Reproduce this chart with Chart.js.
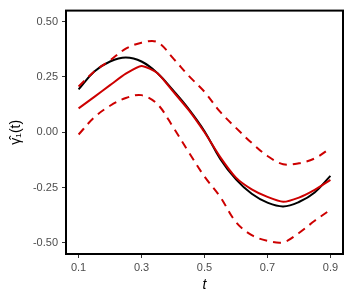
<!DOCTYPE html>
<html><head><meta charset="utf-8">
<script src="https://cdn.jsdelivr.net/npm/chart.js@4"></script>
<style>html,body{margin:0;padding:0;background:#fff}#wrap{width:350px;height:300px}</style>
</head><body><div id="wrap"><canvas id="c" width="350" height="300"></canvas></div>
<script>
const tVals = [0.10,0.15,0.20,0.25,0.30,0.35,0.40,0.45,0.50,0.55,0.60,0.65,0.70,0.75,0.80,0.85,0.90];
const trueCurve = [0.194,0.275,0.320,0.338,0.320,0.268,0.190,0.105,0.005,-0.120,-0.213,-0.278,-0.318,-0.335,-0.315,-0.272,-0.197];
const estimate  = [0.108,0.160,0.213,0.265,0.300,0.268,0.185,0.100,0.000,-0.112,-0.205,-0.258,-0.292,-0.314,-0.295,-0.260,-0.215];
const upperBand = [0.207,0.275,0.325,0.378,0.405,0.408,0.335,0.255,0.183,0.092,0.020,-0.048,-0.107,-0.144,-0.140,-0.118,-0.072];
const lowerBand = [-0.010,0.068,0.120,0.155,0.168,0.128,0.024,-0.090,-0.200,-0.292,-0.406,-0.465,-0.490,-0.497,-0.455,-0.400,-0.350];
const xTicks = [0.1,0.3,0.5,0.7,0.9];
const yTicks = [-0.5,-0.25,0,0.25,0.5];

const pts = arr => arr.map((v,i)=>({x:tVals[i], y:v}));
const RED = '#CD0000';

const borderPlugin = {
  id:'panelBorder',
  afterDatasetsDraw(chart){
    const {ctx, chartArea:a} = chart;
    ctx.save();
    ctx.strokeStyle = '#000';
    ctx.lineWidth = 2;
    ctx.strokeRect(a.left, a.top, a.right-a.left, a.bottom-a.top);
    ctx.restore();
  }
};

new Chart(document.getElementById('c'), {
  type:'line',
  data:{datasets:[
    {data:pts(upperBand), borderColor:RED, borderWidth:2, borderDash:[8,6], pointRadius:0, tension:0.35, fill:false},
    {data:pts(lowerBand), borderColor:RED, borderWidth:2, borderDash:[8,6], pointRadius:0, tension:0.35, fill:false},
    {data:pts(estimate), borderColor:RED, borderWidth:2, pointRadius:0, tension:0.2, fill:false},
    {data:pts(trueCurve), borderColor:'#000', borderWidth:2, pointRadius:0, tension:0.4, fill:false}
  ]},
  options:{
    responsive:false, animation:false,
    layout:{padding:{left:0, right:7, top:7, bottom:0}},
    plugins:{legend:{display:false}, tooltip:{enabled:false}},
    scales:{
      x:{type:'linear', min:0.06, max:0.94,
        afterBuildTicks(s){ s.ticks = xTicks.map(v=>({value:v})); },
        afterFit(s){ s.height = 46; },
        grid:{display:true, drawOnChartArea:false, drawTicks:true, tickLength:4, color:'#333'},
        border:{display:false},
        ticks:{padding:3, color:'#4d4d4d', font:{family:'Liberation Sans', size:11}, maxRotation:0,
          callback:v=>v.toFixed(1)},
        title:{display:true, text:'t', color:'#000', font:{family:'Liberation Sans', size:14, style:'italic'}, padding:{top:0,bottom:6}}
      },
      y:{type:'linear', min:-0.55, max:0.55,
        afterBuildTicks(s){ s.ticks = yTicks.map(v=>({value:v})); },
        afterFit(s){ s.width = 66; },
        grid:{display:true, drawOnChartArea:false, drawTicks:true, tickLength:4, color:'#333'},
        border:{display:false},
        ticks:{padding:4, color:'#4d4d4d', font:{family:'Liberation Sans', size:11},
          callback:v=>v.toFixed(2)},
        title:{display:true, text:'γ\u0302\u2081(t)', color:'#000', font:{family:'Liberation Sans', size:14}, padding:{top:8,bottom:0}}
      }
    }
  },
  plugins:[borderPlugin]
});
</script></body></html>
